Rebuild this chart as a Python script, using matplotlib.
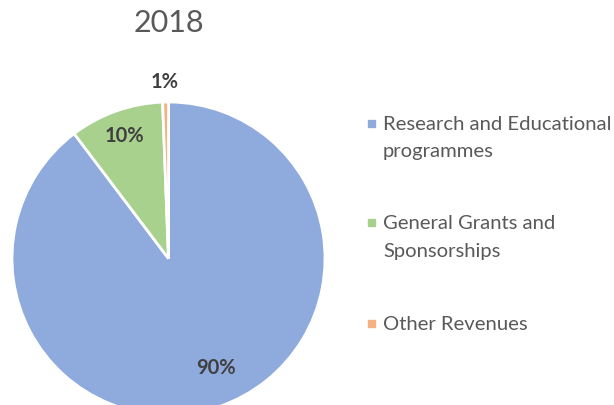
import numpy as np
import matplotlib.pyplot as plt
from matplotlib.patches import Rectangle

# revenue split for 2018, in percent
labels = ["Research and Educational\nprogrammes",
          "General Grants and\nSponsorships",
          "Other Revenues"]
shares = [89.7, 9.7, 0.6]
colors = ["#8FAADC", "#A9D18E", "#F4B183"]

plt.rcParams['font.family'] = ['Lato', 'DejaVu Sans']

fig = plt.figure(figsize=(6.14, 4.05), dpi=100)
W, H = 614, 405

# pie axes in pixel terms: centre (168.5, 258.5), radius 156.5
cx, cy, r = 168.5, 258.5, 156.5
ax = fig.add_axes([(cx - r) / W, (H - cy - r) / H, 2 * r / W, 2 * r / H])
wedges, _ = ax.pie(shares, colors=colors, startangle=90, counterclock=False,
                   radius=1.0, wedgeprops=dict(edgecolor="white", linewidth=2))
ax.set_xlim(-1, 1)
ax.set_ylim(-1, 1)
ax.set_aspect("equal")
ax.axis("off")

# label distance from centre and a small angular nudge per slice
label_radius = [0.76, 0.83, 1.13]
label_nudge = [5, 0, 0]
for w, v, lr, dn in zip(wedges, shares, label_radius, label_nudge):
    ang = np.deg2rad((w.theta1 + w.theta2) / 2 + dn)
    ax.text(lr * np.cos(ang), lr * np.sin(ang), f"{round(v)}%",
            ha="center", va="center", fontsize=14.5, fontweight="bold",
            color="#404040", clip_on=False)

fig.text(cx / W, 1 - 23 / H, "2018", ha="center", va="center",
         fontsize=22, color="#595959")

# legend drawn as marker + label pairs
leg_y = [123, 222, 323]
for lab, col, y in zip(labels, colors, leg_y):
    fig.patches.append(Rectangle((368 / W, 1 - (y + 4) / H), 7 / W, 7 / H,
                                 transform=fig.transFigure, color=col))
    fig.text(383 / W, 1 - (y - 7) / H, lab, ha="left", va="top",
             fontsize=14.6, color="#595959", linespacing=1.75)

fig.savefig("out.png", dpi=100)
